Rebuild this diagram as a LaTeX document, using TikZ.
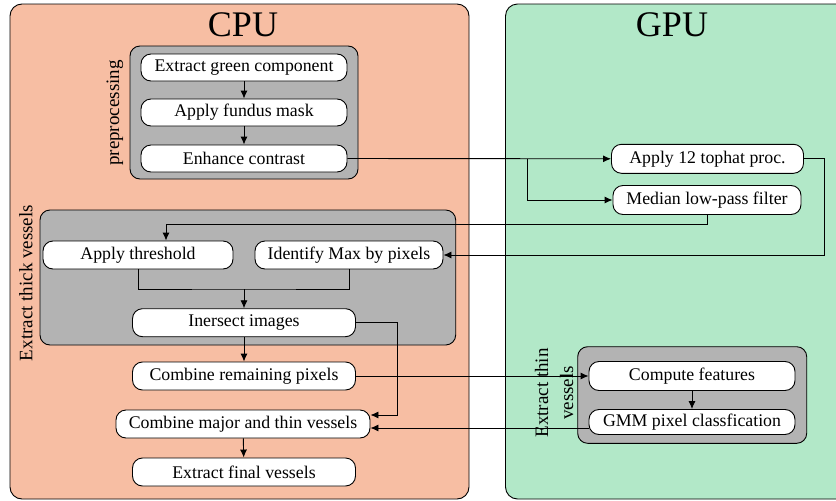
\documentclass[tikz,border=0pt]{standalone}
\usepackage{fontspec}
\setmainfont{Liberation Serif}
\usetikzlibrary{calc,arrows.meta}

\definecolor{cpucol}{RGB}{247,190,163}
\definecolor{gpucol}{RGB}{178,232,200}
\definecolor{groupcol}{RGB}{179,179,179}

\begin{document}
\begin{tikzpicture}[x=1pt,y=-1pt,
    unit/.style={draw,line width=0.9pt,rounded corners=12pt},
    group/.style={draw,fill=groupcol,line width=0.9pt,rounded corners=10pt},
    stepnode/.style={draw,fill=white,line width=0.9pt,rounded corners=10pt,
      minimum height=28pt,inner sep=0pt,font=\fontsize{17.8}{20}\selectfont},
    lbl/.style={rotate=90,font=\fontsize{19}{25}\selectfont},
    flow/.style={line width=0.9pt,-{Latex[length=8pt,width=7pt]}}]
  \useasboundingbox (0,0) rectangle (836,501);

  % processing units
  \draw[unit,fill=cpucol] (10,4) rectangle (469,499);
  \draw[unit,fill=gpucol] (505.5,4) rectangle (860,499);
  \node[font=\fontsize{36}{40}\selectfont] (cpu) at (243,25) {CPU};
  \node[font=\fontsize{36}{40}\selectfont] (gpu) at (672,25) {GPU};

  % groups
  \draw[group] (130,46) rectangle (358,179);
  \draw[group] (40,210) rectangle (455.7,345);
  \draw[group] (577.7,346.7) rectangle (806.7,443.3);
  \node[lbl] (prep) at (115,113) {preprocessing};
  \node[lbl] (thick) at (26,283) {Extract thick vessels};
  \node[lbl,align=center] (thin) at (554,393) {Extract thin\\vessels};

  % CPU steps
  \node[stepnode,minimum width=206pt,minimum height=27pt] (green) at (244,67.5) {Extract green component};
  \node[stepnode,minimum width=206pt,minimum height=27pt] (mask) at (244,112.5) {Apply fundus mask};
  \node[stepnode,minimum width=206pt,minimum height=27pt] (contrast) at (244,158.5) {Enhance contrast};
  \node[stepnode,minimum width=190pt] (threshold) at (138,255) {Apply threshold};
  \node[stepnode,minimum width=188pt] (identify) at (349,255) {Identify Max by pixels};
  \node[stepnode,minimum width=223pt] (intersect) at (244,322.7) {Inersect images};
  \node[stepnode,minimum width=223pt] (remaining) at (244,376) {Combine remaining pixels};
  \node[stepnode,minimum width=254pt] (major) at (243,424) {Combine major and thin vessels};
  \node[stepnode,minimum width=223pt] (final) at (244,472) {Extract final vessels};

  % GPU steps
  \node[stepnode,minimum width=192pt,minimum height=29pt] (tophat) at (707.5,158.8) {Apply 12 tophat proc.};
  \node[stepnode,minimum width=188pt,minimum height=29pt] (median) at (707,200) {Median low-pass filter};
  \node[stepnode,minimum width=206pt,minimum height=29pt] (features) at (692,376) {Compute features};
  \node[stepnode,minimum width=206pt,minimum height=25pt] (gmm) at (692,422) {GMM pixel classfication};

  % connectors
  \draw[flow] (green) -- (mask);
  \draw[flow] (mask) -- (contrast);
  \draw[flow] (contrast.east) -- (tophat.west);
  \coordinate (split) at (527.7,158.5);
  \draw[flow] (split) |- (median.west);
  \draw[flow] (tophat.east) -- ++(20,0) |- (identify.east);
  \draw[flow] (median.south) -- ++(0,9) -| ([xshift=28pt]threshold.north);
  \coordinate (join) at (244,289);
  \draw[line width=0.9pt] (threshold.south) |- (join) -| (identify.south);
  \draw[flow] (join) -- (intersect.north);
  \draw[flow] (intersect) -- (remaining);
  \draw[flow] (intersect.east) -- ++(41.6,0) |- ([yshift=9pt]major.east);
  \draw[flow] (remaining.east) -- (features.west);
  \draw[flow] (features) -- (gmm);
  \draw[flow] ([yshift=-6pt]gmm.west) -- ([yshift=-6pt]gmm.west -| major.east);
  \draw[flow] (major) -- (final);
\end{tikzpicture}
\end{document}
